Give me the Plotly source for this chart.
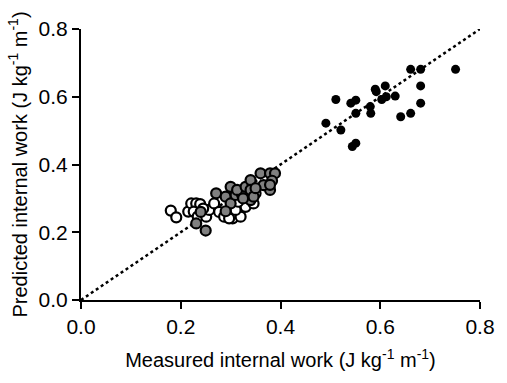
import plotly.graph_objects as go

# Black (filled) points
black_x = [0.491, 0.511, 0.521, 0.541, 0.551, 0.551, 0.544, 0.551, 0.580, 0.581, 0.590, 0.592,
           0.610, 0.603, 0.612, 0.630, 0.641, 0.661, 0.661, 0.681, 0.681, 0.681, 0.751]
black_y = [0.522, 0.592, 0.502, 0.581, 0.590, 0.551, 0.453, 0.463, 0.571, 0.551, 0.622, 0.615,
           0.632, 0.592, 0.600, 0.602, 0.541, 0.551, 0.681, 0.681, 0.632, 0.581, 0.681]

# Gray-filled points
gray_x = [0.231, 0.250, 0.240, 0.271, 0.290, 0.300, 0.300, 0.310, 0.323, 0.313, 0.330, 0.340,
          0.340, 0.340, 0.346, 0.360, 0.379, 0.389, 0.383, 0.379, 0.366, 0.379, 0.290, 0.325, 0.350]
gray_y = [0.226, 0.205, 0.260, 0.315, 0.305, 0.334, 0.285, 0.310, 0.310, 0.325, 0.334, 0.354,
          0.325, 0.295, 0.305, 0.374, 0.374, 0.374, 0.352, 0.325, 0.339, 0.340, 0.262, 0.300, 0.330]

# Open (white) points
open_x = [0.180, 0.191, 0.215, 0.221, 0.231, 0.239, 0.226, 0.234, 0.251, 0.257, 0.267, 0.277,
          0.287, 0.304, 0.320, 0.330, 0.300, 0.310, 0.350, 0.346, 0.330, 0.297, 0.315, 0.245]
open_y = [0.264, 0.244, 0.261, 0.285, 0.285, 0.283, 0.261, 0.246, 0.246, 0.266, 0.285, 0.260,
          0.246, 0.241, 0.246, 0.275, 0.270, 0.266, 0.315, 0.285, 0.315, 0.241, 0.290, 0.270]

line_x = [0.0, 0.8]
line_y = [0.0, 0.8]

tick_vals = [0, 0.2, 0.4, 0.6, 0.8]
tick_text = ["0.0", "0.2", "0.4", "0.6", "0.8"]

fig = go.Figure()
fig.add_trace(go.Scatter(x=line_x, y=line_y, mode="lines",
                         line=dict(color="black", width=2.5, dash="dot"), hoverinfo="skip"))
fig.add_trace(go.Scatter(x=open_x, y=open_y, mode="markers",
                         marker=dict(size=10, color="white", line=dict(color="black", width=2.2))))
fig.add_trace(go.Scatter(x=gray_x, y=gray_y, mode="markers",
                         marker=dict(size=10, color="#808080", line=dict(color="black", width=2.2))))
fig.add_trace(go.Scatter(x=black_x, y=black_y, mode="markers",
                         marker=dict(size=9, color="black", line=dict(color="black", width=0))))

font = dict(family="Liberation Sans, Arial, sans-serif", size=20, color="black")
fig.update_layout(
    width=507, height=383, autosize=False,
    margin=dict(l=81, r=19, t=29, b=83),
    plot_bgcolor="white", paper_bgcolor="white",
    showlegend=False, font=font,
)
common = dict(range=[0, 0.8], tickvals=tick_vals, ticktext=tick_text,
              showline=True, linecolor="black", linewidth=2, showgrid=False, zeroline=False,
              ticks="outside", ticklen=7, tickwidth=2, tickcolor="black",
              tickfont=dict(size=21))
fig.update_xaxes(**common,
                 title=dict(text="Measured internal work (J kg<sup>-1</sup> m<sup>-1</sup>)",
                            font=dict(size=20), standoff=16))
fig.update_yaxes(**common,
                 title=dict(text="Predicted internal work (J kg<sup>-1</sup> m<sup>-1</sup>)",
                            font=dict(size=20), standoff=6))

fig.write_html("out.html", config={"displayModeBar": False},
               post_script="document.body.style.margin='0';document.body.style.overflow='hidden';")
